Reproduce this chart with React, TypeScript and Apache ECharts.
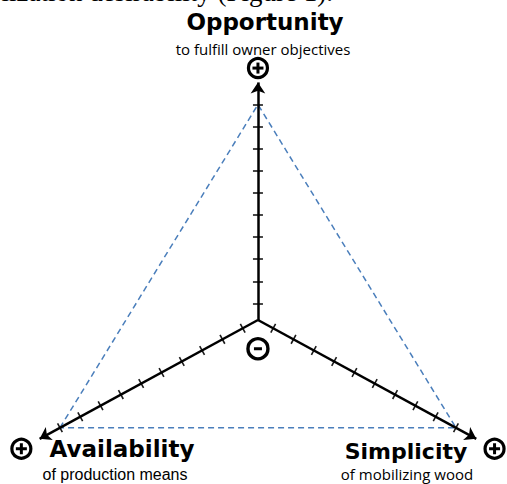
import React, { useEffect, useRef } from "react";
import * as echarts from "echarts";

// ---- data ----
const axisNames = ["Opportunity", "Availability", "Simplicity"];
const axisSubtitles = ["to fulfill owner objectives", "of production means", "of mobilizing wood"];
const axisAngles = [90, 210, 330]; // direction of each axis (degrees)
const tickScores = [1, 2, 3, 4, 5, 6, 7, 8, 9, 10];
const maxScore = 10;
const arrowScore = 11;
const originScore = 0.25;
const plusScores = [11.65, 11.9, 11.9];
const captionText = "lization desirability (Figure 1).";

// ---- layout ----
const W = 507;
const H = 484;
const xMin = -11.0;
const xMax = 10.62;
const yMin = -7.42;
const yMax = 14.48;
const kx = W / (xMax - xMin);
const ky = H / (yMax - yMin);
const minusY = -1.3;
const tickHalf = 5;

function pt(i: number, score: number): [number, number] {
  const u = score - originScore;
  const a = (axisAngles[i] * Math.PI) / 180;
  return [u * Math.cos(a), u * Math.sin(a)];
}

function tickSeg(i: number, score: number): [number, number][] {
  const p = pt(i, score);
  const a = (axisAngles[i] * Math.PI) / 180;
  let dx = Math.cos(a) * kx;
  let dy = Math.sin(a) * ky;
  const len = Math.hypot(dx, dy);
  dx /= len;
  dy /= len;
  const nx = -dy;
  const ny = dx;
  return [
    [p[0] + (nx * tickHalf) / kx, p[1] + (ny * tickHalf) / ky],
    [p[0] - (nx * tickHalf) / kx, p[1] - (ny * tickHalf) / ky],
  ];
}

export default function App() {
  const ref = useRef<HTMLDivElement>(null);
  useEffect(() => {
    if (!ref.current) return;
    const chart = echarts.init(ref.current, null, { renderer: "svg" });
    const axesIdx = axisNames.map((_, i) => i);
    const triangle = [pt(1, maxScore), pt(0, maxScore), pt(2, maxScore), pt(1, maxScore)];
    const axisLines = axesIdx.map((i) => ({ coords: [pt(i, originScore), pt(i, arrowScore)] }));
    const ticks: any[] = [];
    axesIdx.forEach((i) => tickScores.forEach((s) => ticks.push({ coords: tickSeg(i, s) })));
    const plusPts = axesIdx.map((i) => pt(i, plusScores[i]));
    const minusPt: [number, number] = [0, minusY];

    const titleFont = (size: number) => `bold ${size}px "DejaVu Sans"`;
    chart.setOption({
      animation: false,
      backgroundColor: "#fff",
      grid: { left: 0, right: 0, top: 0, bottom: 0, containLabel: false },
      xAxis: { type: "value", min: xMin, max: xMax, show: false },
      yAxis: { type: "value", min: yMin, max: yMax, show: false },
      series: [
        {
          type: "line",
          data: triangle,
          symbol: "none",
          lineStyle: { color: "#4a7ebb", width: 1.5, type: [6, 4] },
          z: 1,
        },
        {
          type: "lines",
          coordinateSystem: "cartesian2d",
          data: ticks,
          symbol: "none",
          lineStyle: { color: "#1a1a1a", width: 1.6, opacity: 1, curveness: 0 },
          z: 2,
        },
        {
          type: "lines",
          coordinateSystem: "cartesian2d",
          data: axisLines,
          symbol: ["none", "arrow"],
          symbolSize: 11,
          lineStyle: { color: "#000", width: 2.5, opacity: 1, curveness: 0 },
          z: 3,
        },
        {
          type: "scatter",
          data: plusPts,
          symbol: "circle",
          symbolSize: 19,
          itemStyle: { color: "#fff", borderColor: "#000", borderWidth: 3.2, opacity: 1 },
          z: 4,
        },
        {
          type: "scatter",
          data: [minusPt],
          symbol: "circle",
          symbolSize: 20,
          itemStyle: { color: "#fff", borderColor: "#000", borderWidth: 3.4, opacity: 1 },
          z: 4,
        },
        {
          type: "scatter",
          data: plusPts,
          symbol: "rect",
          symbolSize: [11, 3],
          itemStyle: { color: "#000", opacity: 1 },
          z: 5,
        },
        {
          type: "scatter",
          data: [minusPt],
          symbol: "rect",
          symbolSize: [8, 3],
          itemStyle: { color: "#000", opacity: 1 },
          z: 5,
        },
        {
          type: "scatter",
          data: plusPts,
          symbol: "rect",
          symbolSize: [3, 11],
          itemStyle: { color: "#000", opacity: 1 },
          z: 5,
        },
      ],
      graphic: [
        {
          type: "text",
          x: 333,
          y: -8,
          style: { text: captionText, font: '27px "Liberation Serif"', fill: "#000", align: "right", verticalAlign: "middle" },
        },
        {
          type: "text",
          x: 265,
          y: 22,
          style: { text: axisNames[0], font: titleFont(23), fill: "#000", align: "center", verticalAlign: "middle" },
        },
        {
          type: "text",
          x: 263,
          y: 49,
          style: { text: axisSubtitles[0], font: '15px "Open Sans"', fill: "#000", align: "center", verticalAlign: "middle" },
        },
        {
          type: "text",
          x: 122,
          y: 449,
          style: { text: axisNames[1], font: titleFont(23), fill: "#000", align: "center", verticalAlign: "middle" },
        },
        {
          type: "text",
          x: 115,
          y: 474,
          style: { text: axisSubtitles[1], font: '16px "Liberation Sans"', fill: "#000", align: "center", verticalAlign: "middle" },
        },
        {
          type: "text",
          x: 406,
          y: 451,
          style: { text: axisNames[2], font: titleFont(22), fill: "#000", align: "center", verticalAlign: "middle" },
        },
        {
          type: "text",
          x: 407,
          y: 474,
          style: { text: axisSubtitles[2], font: '15px "Open Sans"', fill: "#000", align: "center", verticalAlign: "middle" },
        },
      ],
    });
    return () => chart.dispose();
  }, []);
  return (
    <div
      ref={ref}
      style={{ position: "absolute", left: 0, top: 0, width: W, height: H, background: "#fff" }}
    />
  );
}
